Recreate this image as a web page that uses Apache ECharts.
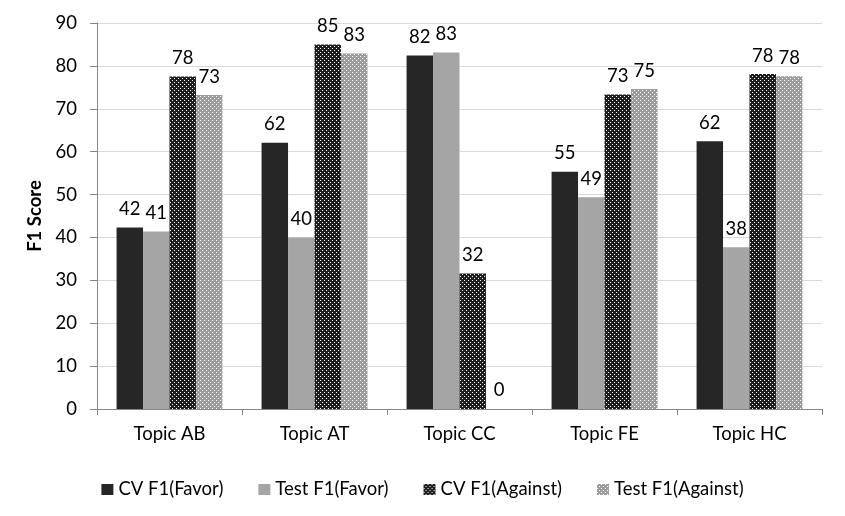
<!DOCTYPE html>
<html>
<head>
<meta charset="utf-8">
<script src="https://cdn.jsdelivr.net/npm/echarts@6/dist/echarts.min.js"></script>
<style>
html, body { margin:0; padding:0; background:#fff; }
#chart { width:845px; height:516px; }
</style>
</head>
<body>
<div id="chart"></div>
<script>
// data
var topics = ['Topic AB', 'Topic AT', 'Topic CC', 'Topic FE', 'Topic HC'];
var cvFavor = [42.3, 62.1, 82.4, 55.3, 62.4];
var testFavor = [41.4, 40.0, 83.1, 49.4, 37.7];
var cvAgainst = [77.5, 85.0, 31.6, 73.3, 78.1];
var testAgainst = [73.2, 82.9, 0, 74.6, 77.6];
var seriesNames = ['CV F1(Favor)', 'Test F1(Favor)', 'CV F1(Against)', 'Test F1(Against)'];

function dotPattern(bg)
{
	var c = document.createElement('canvas');
	c.width = 4; c.height = 4;
	var ctx = c.getContext('2d');
	ctx.fillStyle = bg;
	ctx.fillRect(0, 0, 4, 4);
	ctx.fillStyle = '#ffffff';
	ctx.fillRect(0, 0, 1, 1);
	ctx.fillRect(2, 2, 1, 1);
	return { image: c, repeat: 'repeat' };
}

var FONT = 'Lato';
var FS = 18.5;
var colors = ['#262626', '#a5a5a5', dotPattern('#1e1e1e'), dotPattern('#9c9c9c')];
var datas = [cvFavor, testFavor, cvAgainst, testAgainst];

var series = [];
for (var i = 0; i < datas.length; i++)
{
	series.push({
		name: seriesNames[i],
		type: 'bar',
		data: datas[i],
		barGap: '0%',
		barCategoryGap: '27%',
		itemStyle: { color: colors[i] },
		label: {
			show: true,
			position: 'top',
			distance: 9,
			color: '#000',
			fontFamily: FONT,
			fontSize: FS,
			formatter: function (p) { return Math.round(p.value); }
		}
	});
}

var option = {
	animation: false,
	backgroundColor: '#fff',
	grid: { left: 97, right: 23, top: 23, bottom: 107 },
	legend: {
		top: 475,
		left: 'center',
		itemWidth: 12,
		itemHeight: 11,
		itemGap: 35,
		icon: 'rect',
		textStyle: { fontFamily: FONT, fontSize: FS, color: '#000' },
		data: seriesNames
	},
	xAxis: {
		type: 'category',
		data: topics,
		axisLine: { lineStyle: { color: '#868686' } },
		axisTick: { show: true, length: 6, lineStyle: { color: '#868686' } },
		axisLabel: { fontFamily: FONT, fontSize: FS, color: '#000', margin: 16 }
	},
	yAxis: {
		type: 'value',
		min: 0,
		max: 90,
		interval: 10,
		name: 'F1 Score',
		nameLocation: 'middle',
		nameGap: 45,
		nameTextStyle: { fontFamily: FONT, fontSize: FS, fontWeight: 'bold', color: '#000' },
		axisLine: { show: true, lineStyle: { color: '#868686' } },
		axisTick: { show: true, length: 7, lineStyle: { color: '#868686' } },
		axisLabel: { fontFamily: FONT, fontSize: FS, color: '#000', margin: 20 },
		splitLine: { lineStyle: { color: '#d9d9d9' } }
	},
	series: series
};

var myChart = echarts.init(document.getElementById('chart'));
myChart.setOption(option);
</script>
</body>
</html>
